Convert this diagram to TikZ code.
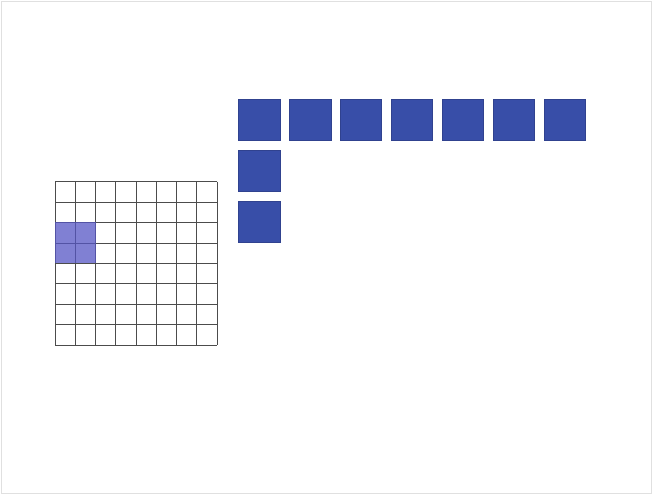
\documentclass[tikz,border=0pt]{standalone}
\usetikzlibrary{positioning}
\definecolor{tileblue}{RGB}{56,78,168}
\definecolor{selblue}{RGB}{86,86,196}
\tikzset{
    tile/.style={rectangle, fill=tileblue, draw=tileblue!85!black, line width=0.4pt, minimum size=41.3pt, inner sep=0pt},
    cellline/.style={draw=black!70, line width=0.6pt},
    selbox/.style={fill=selblue, fill opacity=0.75}
}
\begin{document}
\begin{tikzpicture}[x=1pt, y=-1pt]
        \useasboundingbox (0,0) rectangle (653,495);
        \draw[black!12, line width=1pt] (1.5,1.5) rectangle (651.5,493.5);

        % Raster 8x8
        \foreach \i in {0,...,8} {
            \draw[cellline] ({55+20.25*\i},181.5) -- ({55+20.25*\i},345);
            \draw[cellline] (55,{181.5+20.44*\i}) -- (217,{181.5+20.44*\i});
        }
        \fill[selbox] (55,222.4) rectangle (95.5,263.2);

        % Blaue Kacheln
        \node (t1) [tile] at (259.2,119.7) {};
        \foreach \n [count=\p from 1] in {2,...,7}
            \node (t\n) [tile, right=9.2pt of t\p] {};
        \node (d1) [tile, below=9.2pt of t1] {};
        \node (d2) [tile, below=9.2pt of d1] {};

    \end{tikzpicture}
\end{document}
